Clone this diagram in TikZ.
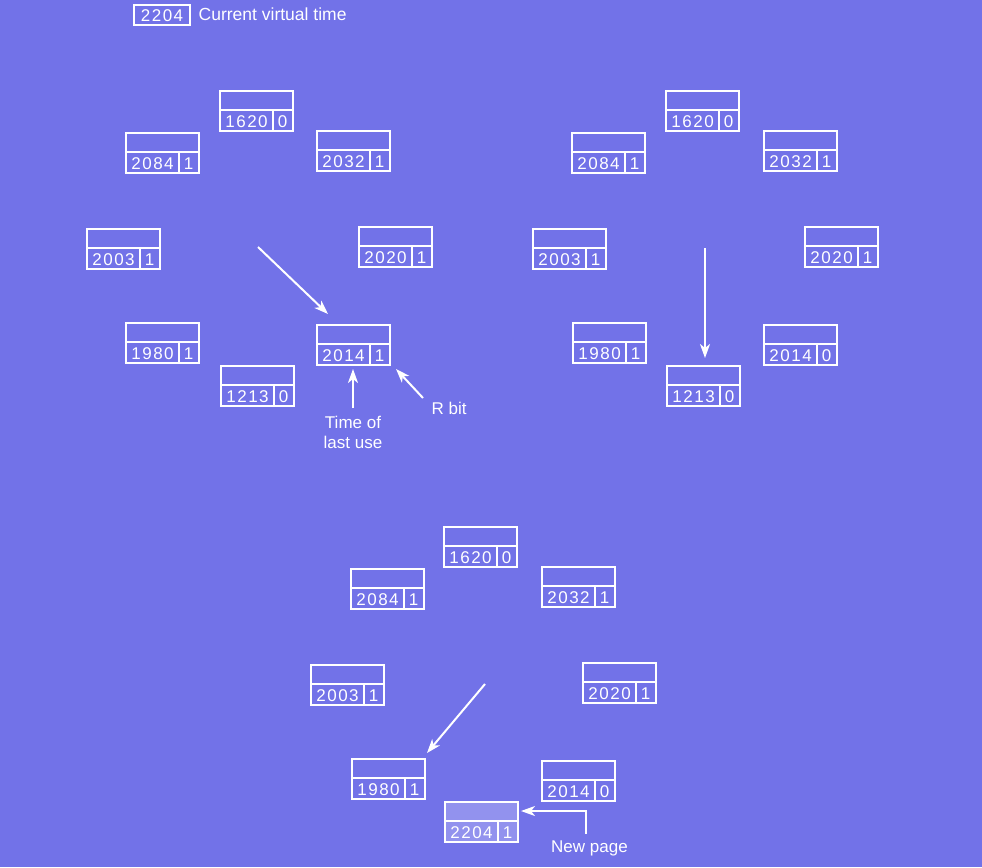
\documentclass[tikz,border=0pt]{standalone}
\usepackage{fontspec}
\setmainfont{Liberation Sans}
\newfontfamily\digitfont[LetterSpace=9]{Liberation Sans}
\usetikzlibrary{arrows.meta}
\definecolor{bgc}{RGB}{114,114,232}
\definecolor{newc}{RGB}{146,146,238}
\tikzset{
  ln/.style={draw=white,line width=2pt},
  pg/.style={ln,rectangle,minimum width=73pt,minimum height=40pt,inner sep=0pt,outer sep=0pt},
  dg/.style={text=white,inner sep=0pt,anchor=base,font=\digitfont\fontsize{17pt}{20pt}\selectfont},
  lbl/.style={text=white,inner sep=0pt,anchor=base west,font=\fontsize{17pt}{20pt}\selectfont},
  arr/.style={draw=white,line width=2pt,-{Stealth[length=14pt,width=10pt,inset=4pt]}},
}
% name, x, y, number, bit, extra style
\newcommand\pbox[6]{%
  \node[pg,#6] (#1) at (#2+36.5,#3+20) {};
  \draw[ln] ([yshift=-19pt]#1.north west) -- ([yshift=-19pt]#1.north east);
  \draw[ln] ([xshift=53pt,yshift=-19pt]#1.north west) -- ([xshift=53pt]#1.south west);
  \node[dg] (#1-n) at (#2+26.5,#3+36.5) {#4};
  \node[dg] (#1-b) at (#2+62.5,#3+36.5) {#5};
}
\begin{document}
\begin{tikzpicture}[x=1pt,y=-1pt]
\fill[bgc] (0,0) rectangle (982,867);
\useasboundingbox (0,0) rectangle (982,867);
% legend
\node[ln,rectangle,minimum width=56pt,minimum height=20pt,inner sep=0pt] (legend) at (162,15) {};
\node[dg] (legend-n) at (162,22) {2204};
\node[lbl,font=\fontsize{17.5pt}{20pt}\selectfont] (legend-t) at (198.5,21) {Current virtual time};
% top-left clock
\pbox{a1620}{220}{91}{1620}{0}{}
\pbox{a2084}{126}{133}{2084}{1}{}
\pbox{a2032}{317}{131}{2032}{1}{}
\pbox{a2003}{87}{229}{2003}{1}{}
\pbox{a2020}{359}{227}{2020}{1}{}
\pbox{a1980}{126}{323}{1980}{1}{}
\pbox{a2014}{317}{325}{2014}{1}{}
\pbox{a1213}{221}{366}{1213}{0}{}
% top-right clock
\pbox{b1620}{666}{91}{1620}{0}{}
\pbox{b2084}{572}{133}{2084}{1}{}
\pbox{b2032}{764}{131}{2032}{1}{}
\pbox{b2003}{533}{229}{2003}{1}{}
\pbox{b2020}{805}{227}{2020}{1}{}
\pbox{b1980}{573}{323}{1980}{1}{}
\pbox{b2014}{764}{325}{2014}{0}{}
\pbox{b1213}{667}{366}{1213}{0}{}
% bottom clock
\pbox{c1620}{444}{527}{1620}{0}{}
\pbox{c2084}{351}{569}{2084}{1}{}
\pbox{c2032}{542}{567}{2032}{1}{}
\pbox{c2003}{311}{665}{2003}{1}{}
\pbox{c2020}{583}{663}{2020}{1}{}
\pbox{c1980}{352}{759}{1980}{1}{}
\pbox{c2014}{542}{761}{2014}{0}{}
\pbox{c2204}{445}{802}{2204}{1}{fill=newc}
% hands
\coordinate (h1s) at (258,247); \coordinate (h1e) at (328,314);
\coordinate (h2s) at (705,248); \coordinate (h2e) at (705,358);
\coordinate (h3s) at (485,684); \coordinate (h3e) at (427,753);
\draw[arr] (h1s) -- (h1e);
\draw[arr] (h2s) -- (h2e);
\draw[arr] (h3s) -- (h3e);
% annotations
\coordinate (tls) at (353,408); \coordinate (tle) at (353,369);
\coordinate (rbs) at (423,398); \coordinate (rbe) at (396,369);
\coordinate (nps) at (585.5,834); \coordinate (npe) at (521,811);
\draw[arr] (tls) -- (tle);
\draw[arr] (rbs) -- (rbe);
\draw[arr] (nps) |- (npe);
\node[text=white,inner sep=0pt,anchor=base,font=\fontsize{17pt}{20pt}\selectfont] (tlu1) at (353,428.5) {Time of};
\node[text=white,inner sep=0pt,anchor=base,font=\fontsize{17pt}{20pt}\selectfont] (tlu2) at (353,448.5) {last use};
\node[lbl] (rbit) at (431.5,414) {R bit};
\node[lbl] (newp) at (551,852) {New page};
\end{tikzpicture}
\end{document}
